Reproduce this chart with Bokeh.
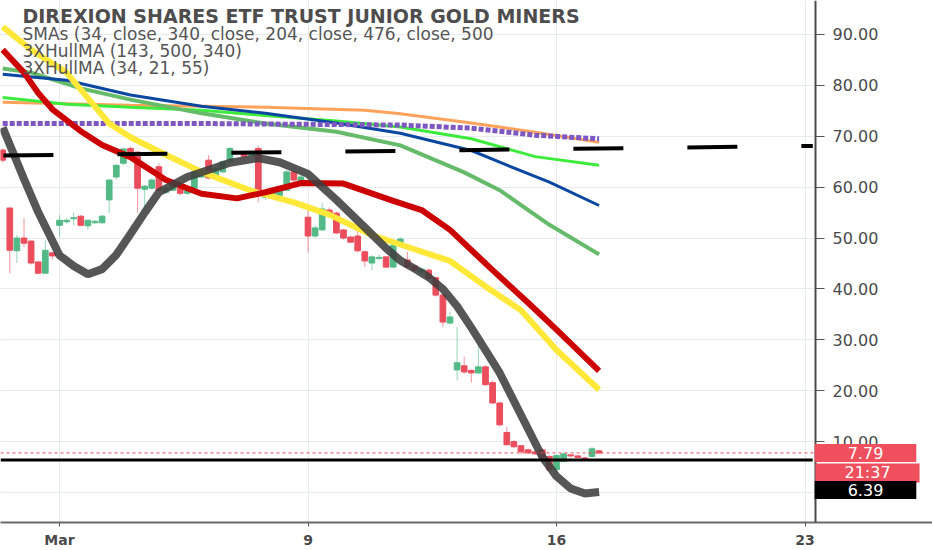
from bokeh.plotting import figure
from bokeh.models import (ColumnDataSource, FixedTicker, PrintfTickFormatter, Label, Range1d,
                          LinearAxis, Grid, BoxAnnotation)
from bokeh.embed import file_html
from bokeh.resources import INLINE

# hourly bars, index 0 = first bar of Mar 2
bar_idx = list(range(-8, 77))
opens = [67.3, 55.9, 47.5, 50.0, 49.4, 45.3, 43.1, 47.1,
         52.5, 53.2, 53.8, 54.3, 52.4, 53.0, 53.0,
         57.5, 62.0, 64.7, 67.6, 66.9, 59.6, 59.8,
         64.0, 59.0, 59.4, 59.8, 58.8, 59.8, 62.0,
         65.3, 62.0, 63.0, 65.0, 66.9, 66.7, 66.2,
         67.6, 58.0, 58.2, 58.4, 59.4, 63.0, 61.0,
         54.1, 50.4, 51.6, 55.5, 54.9, 51.6, 50.2,
         50.4, 47.3, 45.1, 46.0, 46.3, 44.3, 48.6,
         45.7, 44.5, 43.3, 43.7, 42.2, 38.8, 33.3,
         24.1, 24.9, 24.0, 23.5, 24.7, 21.6, 17.6,
         11.8, 10.0, 9.2, 8.4, 8.0, 8.4, 7.1,
         4.5, 6.1, 7.4, 7.2, 6.8, 7.1, 8.2]
highs = [67.6, 56.0, 50.6, 53.9, 49.6, 45.5, 49.6, 47.3,
         54.5, 54.0, 55.0, 54.5, 53.6, 53.5, 54.5,
         61.5, 64.5, 67.8, 68.0, 67.0, 60.4, 61.8,
         64.7, 60.2, 60.6, 60.0, 59.6, 63.2, 63.3,
         66.3, 64.0, 65.3, 67.9, 67.2, 67.0, 66.8,
         68.2, 59.4, 59.5, 60.0, 63.3, 63.4, 62.5,
         55.5, 52.5, 56.9, 56.0, 55.2, 51.8, 50.5,
         52.0, 47.5, 46.6, 46.8, 46.5, 48.8, 50.2,
         47.3, 44.8, 44.2, 44.0, 42.4, 39.0, 35.5,
         32.5, 26.7, 24.2, 29.6, 25.0, 22.0, 17.8,
         12.9, 10.3, 9.4, 8.6, 8.2, 8.6, 7.3,
         7.5, 7.9, 7.5, 7.3, 7.0, 9.0, 8.4]
lows = [64.8, 43.1, 45.1, 48.2, 44.8, 42.9, 43.0, 45.8,
        50.2, 52.8, 52.5, 52.3, 51.6, 52.8, 52.8,
        54.9, 61.5, 64.3, 66.5, 54.9, 55.9, 59.5,
        59.0, 58.6, 59.2, 58.4, 58.5, 59.6, 61.8,
        61.5, 61.8, 62.8, 64.8, 66.2, 65.8, 66.0,
        57.0, 57.5, 57.8, 58.2, 59.2, 61.0, 60.8,
        47.1, 50.0, 51.4, 54.3, 50.8, 49.7, 49.0,
        47.2, 44.3, 43.7, 45.6, 44.1, 44.1, 48.4,
        43.9, 43.4, 43.0, 41.8, 38.5, 32.5, 33.0,
        22.0, 23.3, 21.6, 23.2, 21.0, 17.4, 13.0,
        9.2, 8.8, 7.5, 7.6, 7.4, 6.7, 4.2,
        4.0, 6.0, 7.0, 6.7, 6.4, 6.9, 7.5]
closes = [65.3, 47.6, 50.0, 49.0, 45.1, 43.1, 47.6, 46.5,
          53.5, 53.5, 54.0, 52.5, 53.5, 53.3, 54.3,
          61.4, 64.3, 67.5, 66.7, 59.8, 60.2, 61.4,
          59.4, 59.8, 60.4, 58.8, 59.3, 63.0, 63.0,
          61.8, 63.7, 65.0, 67.6, 66.6, 66.0, 66.5,
          58.8, 59.0, 59.0, 59.8, 63.0, 61.4, 62.0,
          50.4, 52.0, 55.7, 54.7, 51.0, 50.0, 49.2,
          47.5, 45.5, 46.3, 46.2, 44.3, 48.6, 49.8,
          44.3, 43.7, 43.9, 42.1, 38.8, 33.5, 34.5,
          25.5, 23.7, 23.5, 24.7, 21.2, 17.6, 13.3,
          9.4, 9.0, 8.0, 7.8, 7.6, 6.9, 4.5,
          7.3, 7.6, 7.2, 6.9, 6.6, 8.6, 7.79]

# moving averages read at a few bars each
yellow_idx = [-8, -4, 1, 4, 7, 10, 14, 20, 27, 33, 38, 44, 50, 55, 60, 65, 70, 76]
yellow_val = [91.5, 87.0, 82.5, 77.5, 72.5, 69.8, 67.0, 63.0, 59.3, 57.0, 54.6, 50.6, 47.8, 45.5,
              40.5, 35.8, 28.0, 20.2]
red_idx = [-8, -5, -3, -1, 3, 6, 10, 15, 20, 25, 29, 34, 40, 47, 51, 55, 61, 66, 70, 76]
red_val = [87.0, 82.5, 78.5, 75.3, 71.0, 68.3, 65.9, 61.4, 58.7, 57.8, 59.0, 60.8, 60.7, 57.3, 55.5,
           51.6, 43.7, 37.3, 32.0, 23.9]
gray_idx = [-8, -5, -3, 0, 2, 4, 6, 8, 10, 12, 14, 18, 24, 28, 31, 35, 39, 43, 46, 48, 50, 52, 54,
            56, 58, 60, 62, 64, 66, 68, 70, 72, 74, 76]
gray_val = [71.7, 61.6, 55.1, 46.6, 44.5, 42.9, 43.9, 46.7, 50.8, 55.0, 59.0, 62.0, 64.8, 65.7, 64.9,
            62.6, 57.5, 52.1, 48.0, 45.6, 44.0, 42.3, 40.0, 36.6, 32.4, 28.0, 23.5, 18.0, 12.5, 7.0,
            3.2, 0.8, -0.2, 0.1]
blue_idx = [-8, 1, 10, 20, 29, 39, 48, 58, 62, 69, 76]
blue_val = [82.2, 81.0, 78.1, 75.9, 74.5, 72.6, 70.6, 67.2, 64.9, 61.0, 56.4]
green_idx = [-8, -4, 3, 10, 20, 29, 39, 48, 57, 62, 69, 76]
green_val = [83.3, 82.5, 79.4, 77.2, 74.5, 72.5, 70.9, 68.2, 62.9, 59.4, 52.6, 46.8]
lime_idx = [-8, 1, 10, 20, 29, 39, 48, 58, 67, 76]
lime_val = [77.6, 76.3, 75.7, 75.1, 74.1, 73.0, 71.8, 69.5, 66.0, 64.3]
orange_idx = [-8, 10, 29, 43, 48, 58, 67, 76]
orange_val = [76.7, 76.1, 75.7, 75.1, 74.4, 72.6, 70.8, 68.8]
purple_idx = [-8, 20, 39, 48, 58, 67, 76]
purple_val = [72.5, 72.5, 72.3, 72.2, 71.6, 70.2, 69.5]

trend_idx = [-7.9, 106.1]
trend_val = [66.2, 68.1]
support_level = 6.39
last_close = 7.79
countdown = "21:37"

day_ticks = [0, 35, 70, 105]
day_labels = ["Mar", "9", "16", "23"]
price_ticks = [0, 10, 20, 30, 40, 50, 60, 70, 80, 90]

title_text = "DIREXION SHARES ETF TRUST JUNIOR GOLD MINERS"
legend_lines = ["SMAs (34, close, 340, close, 204, close, 476, close, 500",
                "3XHullMA (143, 500, 340)",
                "3XHullMA (34, 21, 55)"]

UP, DOWN = "#53B987", "#EB4D5C"
FONT = "DejaVu Sans"
X_START = -8.31
BAR_PX = 7.1
SCALE_AT = 106.48          # where the price scale sits, in bar units

p = figure(width=932, height=550, output_backend="svg", toolbar_location=None,
           x_range=Range1d(X_START, X_START + 932 / BAR_PX), y_range=Range1d(-5.88, 96.67),
           y_axis_location=None, min_border_left=0, min_border_right=0,
           min_border_top=0, min_border_bottom=27)
p.outline_line_color = None
p.background_fill_color = "white"

# grids (horizontal ones hidden under the scale area)
p.xgrid.ticker = FixedTicker(ticks=day_ticks)
p.xgrid.grid_line_color = "#e6eaef"
for g in p.ygrid:
    g.visible = False
p.add_layout(Grid(dimension=1, ticker=FixedTicker(ticks=price_ticks), grid_line_color="#e6eaef"))
p.add_layout(BoxAnnotation(left=SCALE_AT, fill_color="white", fill_alpha=1.0, line_alpha=0,
                           level="underlay"))

# candles
colors = [UP if c >= o else DOWN for o, c in zip(opens, closes)]
src = ColumnDataSource(dict(x=bar_idx, o=opens, h=highs, l=lows, c=closes, color=colors))
p.segment(x0="x", y0="h", x1="x", y1="l", line_color="color", line_alpha=0.6, line_width=1, source=src)
p.vbar(x="x", width=0.8, top="o", bottom="c", fill_color="color", line_color="color", source=src)

# moving averages
p.line(orange_idx, orange_val, line_color="#FFA35C", line_width=3)
p.line(lime_idx, lime_val, line_color="#3DEB3D", line_width=3)
p.line(green_idx, green_val, line_color="#66BB6A", line_width=4)
p.line(blue_idx, blue_val, line_color="#0B46A0", line_width=3)
p.line(purple_idx, purple_val, line_color="#7E57C2", line_width=5, line_dash="5 2")
p.line(yellow_idx, yellow_val, line_color="#FFE838", line_width=6)
p.line(red_idx, red_val, line_color="#CC0000", line_width=6)
p.line(gray_idx, gray_val, line_color="#3F3F3F", line_alpha=0.88, line_width=8)

p.line(trend_idx, trend_val, line_color="black", line_width=4, line_dash="50 64")

# last price and support levels
p.segment(x0=X_START, x1=SCALE_AT, y0=last_close, y1=last_close, line_color=DOWN, line_width=1,
          line_dash="3 3")
p.segment(x0=X_START, x1=SCALE_AT - 0.4, y0=support_level, y1=support_level, line_color="black",
          line_width=3)

# axes
ya = LinearAxis(fixed_location=SCALE_AT)
ya.ticker = FixedTicker(ticks=price_ticks)
ya.formatter = PrintfTickFormatter(format="%.2f")
ya.major_label_text_font = FONT
ya.major_label_text_font_size = "16px"
ya.major_label_text_color = "#4a4a4a"
ya.major_tick_out = 9
ya.major_tick_in = 0
ya.minor_tick_out = 0
ya.minor_tick_in = 0
ya.major_tick_line_color = "#555555"
ya.axis_line_color = "#4a4a4a"
ya.axis_line_width = 2
ya.major_label_standoff = 8
p.add_layout(ya, "right")

xa = p.xaxis[0]
xa.ticker = FixedTicker(ticks=day_ticks)
xa.major_label_overrides = dict(zip(day_ticks, day_labels))
xa.major_label_text_font = FONT
xa.major_label_text_font_size = "14px"
xa.major_label_text_font_style = "bold"
xa.major_label_text_color = "#4a4a4a"
xa.major_tick_out = 4
xa.major_tick_in = 0
xa.minor_tick_out = 0
xa.minor_tick_in = 0
xa.major_tick_line_color = "#555555"
xa.axis_line_color = "#6a6a6a"
xa.axis_line_width = 2
xa.major_label_standoff = 5

# header texts
p.add_layout(Label(x=22, y=507, x_units="screen", y_units="screen", text=title_text,
                   text_font=FONT, text_font_size="19px", text_font_style="bold",
                   text_color="#4d4d4d", text_baseline="middle"))
for k, line in enumerate(legend_lines):
    p.add_layout(Label(x=22, y=489 - 17 * k, x_units="screen", y_units="screen", text=line,
                       text_font=FONT, text_font_size="17px", text_color="#555555",
                       text_baseline="middle"))

# price tags on the scale
tag_style = dict(x_units="screen", text_font=FONT, text_font_size="16px", text_color="white",
                 text_align="center", text_baseline="middle")
p.add_layout(Label(x=865, y=last_close, text="%.2f" % last_close,
                   background_fill_color="#F0505E", padding=(33, 3), **tag_style))
p.add_layout(Label(x=867, y=last_close, y_offset=-20, text=countdown,
                   background_fill_color="#F0505E", padding=(29, 0), **tag_style))
p.add_layout(Label(x=865, y=support_level, y_offset=-30, text="%.2f" % support_level,
                   background_fill_color="black", padding=(33, 3), **tag_style))

open("out.html", "w").write(file_html(p, INLINE))
